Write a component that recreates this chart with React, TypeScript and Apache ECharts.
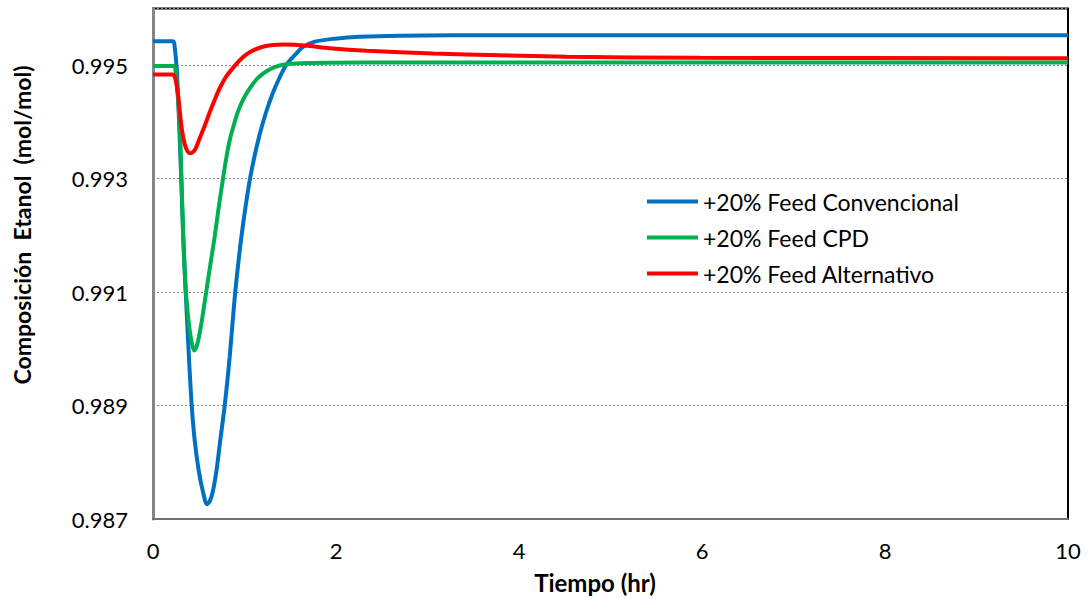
import React, { useEffect, useRef } from "react";
import * as echarts from "echarts";

const seriesNames = ["+20% Feed Convencional", "+20% Feed CPD", "+20% Feed Alternativo"];
const seriesColors = ["#0070C0", "#00B050", "#FF0000"];

const xTicks = [0, 2, 4, 6, 8, 10];
const yTicks = [0.987, 0.989, 0.991, 0.993, 0.995];

const convencional: [number, number][] = [
  [0, 0.995424], [0.219, 0.995424], [0.237, 0.995318], [0.259, 0.994947], [0.2755, 0.994382],
  [0.3083, 0.993006], [0.3302, 0.991965], [0.3575, 0.990994], [0.3958, 0.989759], [0.4231, 0.989],
  [0.4559, 0.988383], [0.4996, 0.987853], [0.5434, 0.9875], [0.5904, 0.987262], [0.6199, 0.98731],
  [0.6527, 0.987476], [0.6931, 0.987845], [0.7347, 0.988383], [0.7839, 0.989], [0.8385, 0.989865],
  [0.8932, 0.990906], [0.9479, 0.991735], [1.0025, 0.992406], [1.0572, 0.992971], [1.1119, 0.993412],
  [1.1665, 0.993782], [1.2321, 0.994153], [1.3086, 0.994506], [1.3851, 0.994788], [1.4617, 0.995018],
  [1.5491, 0.995176], [1.6366, 0.995318], [1.7678, 0.995415], [1.9864, 0.995468], [2.2598, 0.995503],
  [2.697, 0.995521], [3.79, 0.995529], [10, 0.995529],
];

const cpd: [number, number][] = [
  [0, 0.994988], [0.2263, 0.994988], [0.2482, 0.994876], [0.27, 0.994471], [0.2919, 0.993941],
  [0.3105, 0.993059], [0.3302, 0.992018], [0.3575, 0.991047], [0.3794, 0.990641], [0.4012, 0.990324],
  [0.4231, 0.990112], [0.4482, 0.989971], [0.4723, 0.990024], [0.4941, 0.990147], [0.5215, 0.990377],
  [0.5543, 0.990712], [0.5871, 0.991065], [0.6308, 0.991524], [0.6745, 0.991983], [0.7183, 0.992494],
  [0.762, 0.992971], [0.8003, 0.993359], [0.8385, 0.993677], [0.8823, 0.993941], [0.926, 0.994171],
  [0.9806, 0.994382], [1.0572, 0.994594], [1.1446, 0.994771], [1.2321, 0.994885], [1.3305, 0.994965],
  [1.4398, 0.995012], [1.6038, 0.995035], [1.9318, 0.995044], [2.697, 0.995048], [10, 0.995048],
];

const alternativo: [number, number][] = [
  [0, 0.994836], [0.2154, 0.994836], [0.2427, 0.994771], [0.27, 0.994524], [0.2919, 0.994206],
  [0.3138, 0.993888], [0.3466, 0.993606], [0.3739, 0.993491], [0.4012, 0.993447], [0.434, 0.993465],
  [0.4668, 0.993535], [0.5105, 0.993712], [0.5652, 0.993932], [0.6199, 0.994171], [0.6745, 0.994391],
  [0.7292, 0.994594], [0.7948, 0.994788], [0.8713, 0.994947], [0.9479, 0.995088], [1.0244, 0.995194],
  [1.1119, 0.995274], [1.1993, 0.995326], [1.3086, 0.995356], [1.418, 0.995365], [1.5492, 0.995362],
  [1.7132, 0.995339], [1.9318, 0.9953], [2.3363, 0.995256], [3.0579, 0.995206], [3.7903, 0.995176],
  [4.5228, 0.99515], [5.9769, 0.995131], [10, 0.995124],
];

const allSeries = [convencional, cpd, alternativo];

export default function App() {
  const ref = useRef<HTMLDivElement>(null);
  useEffect(() => {
    document.body.style.margin = "0";
    if (!ref.current) return;
    const chart = echarts.init(ref.current, null, { renderer: "svg" });
    const font = "Lato";
    chart.setOption({
      animation: false,
      backgroundColor: "#fff",
      grid: {
        left: 153,
        right: 21,
        top: 8.5,
        bottom: 80,
        show: true,
        borderColor: "#000",
        borderWidth: 2,
        backgroundColor: "transparent",
      },
      legend: {
        orient: "vertical",
        left: 647,
        top: 190,
        padding: 0,
        icon: "rect",
        itemWidth: 51,
        itemHeight: 4,
        itemGap: 13,
        textStyle: { fontFamily: font, fontSize: 23, lineHeight: 23, color: "#000" },
        data: seriesNames,
      },
      xAxis: {
        type: "value",
        min: xTicks[0],
        max: xTicks[xTicks.length - 1],
        interval: 2,
        axisLine: { show: true, lineStyle: { color: "#6f6f6f", width: 2 } },
        axisTick: { show: false },
        splitLine: { show: false },
        axisLabel: { fontFamily: font, fontSize: 22, color: "#000", margin: 20 },
      },
      yAxis: {
        type: "value",
        min: yTicks[0],
        max: 0.996,
        interval: 0.002,
        axisLine: { show: true, lineStyle: { color: "#868686", width: 3 } },
        axisTick: { show: false },
        splitLine: { show: true, lineStyle: { color: "#8a8a8a", width: 1.2, type: [2, 2] } },
        axisLabel: {
          fontFamily: font,
          fontSize: 22,
          color: "#000",
          margin: 25,
          showMaxLabel: false,
          formatter: (v: number) => (yTicks.some((t) => Math.abs(t - v) < 1e-9) ? v.toFixed(3) : ""),
        },
      },
      graphic: [
        {
          type: "text",
          x: 22,
          y: 225,
          rotation: Math.PI / 2,
          style: {
            text: "Composición  Etanol  (mol/mol)",
            font: `bold 23px ${font}`,
            fill: "#000",
            textAlign: "center",
            textVerticalAlign: "middle",
          },
        },
        {
          type: "text",
          x: 595,
          y: 582,
          style: {
            text: "Tiempo (hr)",
            font: `bold 24px ${font}`,
            fill: "#000",
            textAlign: "center",
            textVerticalAlign: "middle",
          },
        },
      ],
      series: allSeries.map((d, i) => ({
        name: seriesNames[i],
        type: "line",
        data: d,
        showSymbol: false,
        symbol: "none",
        smooth: 0.3,
        lineStyle: { color: seriesColors[i], width: 4 },
        itemStyle: { color: seriesColors[i] },
        z: 3 + i,
      })),
    });
    return () => chart.dispose();
  }, []);
  return <div ref={ref} style={{ width: 1089, height: 599 }} />;
}
